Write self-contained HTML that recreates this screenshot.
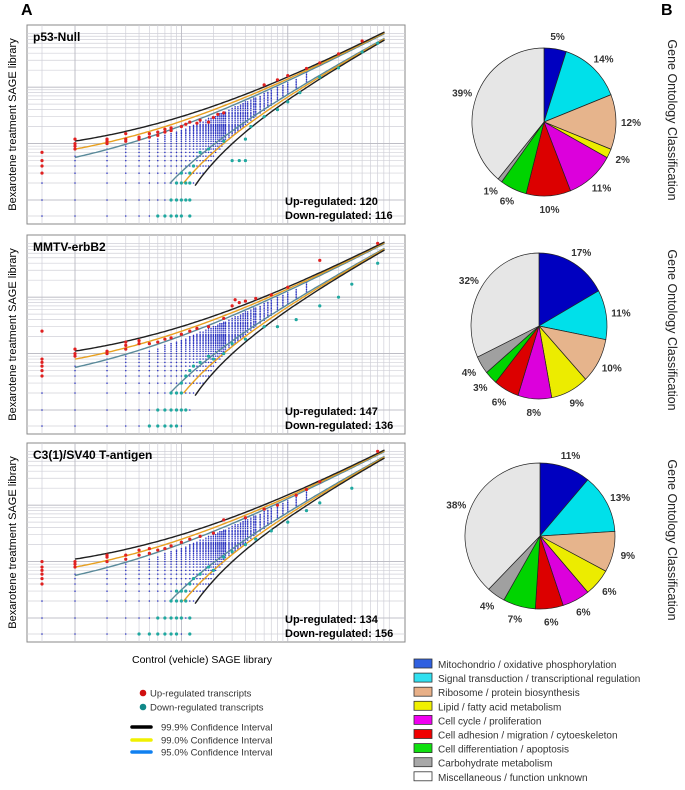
<!DOCTYPE html>
<html><head><meta charset="utf-8"><style>
body{margin:0;background:#fff;width:685px;height:790px;overflow:hidden;font-family:"Liberation Sans",sans-serif}
svg{position:absolute;left:0;top:0}
</style></head><body>
<svg id="fig" width="685" height="790"></svg>
<script>
// ---------- data ----------
const panelNames = ["p53-Null","MMTV-erbB2","C3(1)/SV40 T-antigen"];
const upCounts = [120,147,134];
const downCounts = [116,136,156];
const colX = [1,2,3,4,5,6,7,8,9,10,11,12,13,14,15,16,17,18,19,20,21,22,23,24,25,26,28,30,32,34,36,38,40,42,45,48,50,55,60,65,70,80,90,100,120,150];
const colYmax = [6,8,9,10,11,12,14,15,16,17,18,20,21,22,24,25,26,28,29,30,31,33,34,35,36,37,40,42,45,47,50,52,55,57,60,64,66,72,78,84,90,100,112,122,145,180];
const colYmin = [0,0,0,0,0,0,0,0,0,0,1,1,2,2,3,3,4,4,5,6,7,8,8,9,10,11,12,14,15,17,19,20,22,24,26,29,31,35,39,44,48,57,66,74,92,120];
const redP1 = [[0,3],[0,4],[0,5],[0,7],[1,8],[1,9],[1,10],[1,12],[2,10],[2,11],[2,12],[3,11],[3,12],[3,15],[4,12],[4,13],[5,13],[5,15],[6,14],[6,16],[7,16],[7,18],[8,17],[8,19],[10,20],[11,22],[12,24],[14,23],[15,26],[18,24],[20,29],[22,33],[25,35],[60,110],[80,135],[100,160],[150,215],[200,270],[300,390],[500,660]];
const downP1 = [[6,0],[7,0],[8,0],[9,0],[10,0],[12,0],[8,1],[9,1],[10,1],[11,1],[12,1],[9,2],[10,2],[11,2],[12,2],[10,3],[12,3],[13,4],[15,7],[18,8],[25,11],[30,5],[35,5],[40,5],[40,12],[45,20],[60,30],[80,40],[100,55],[130,80],[200,150],[300,220],[500,420],[700,600]];
const redP2 = [[0,4],[0,5],[0,6],[0,7],[0,8],[0,25],[1,9],[1,10],[1,12],[2,10],[2,11],[3,12],[3,14],[3,16],[4,15],[4,17],[5,15],[6,16],[7,18],[8,19],[10,22],[12,25],[14,28],[18,30],[25,42],[30,70],[32,90],[35,80],[40,85],[50,95],[70,110],[100,150],[200,450],[700,900]];
const downP2 = [[5,0],[6,0],[7,0],[8,0],[9,0],[6,1],[7,1],[8,1],[9,1],[10,1],[11,1],[8,2],[9,2],[10,2],[10,3],[11,4],[12,5],[13,6],[15,7],[18,9],[20,8],[25,10],[30,15],[40,18],[60,30],[80,30],[120,40],[200,70],[300,100],[400,170],[700,400]];
const redP3 = [[0,4],[0,5],[0,6],[0,7],[0,8],[0,10],[1,8],[1,9],[1,10],[2,10],[2,12],[2,13],[3,11],[3,13],[4,13],[4,16],[5,14],[5,17],[6,16],[7,17],[8,19],[10,22],[12,25],[15,28],[20,32],[25,55],[40,60],[60,85],[80,100],[120,150],[150,190],[200,260],[700,900]];
const downP3 = [[4,0],[5,0],[6,0],[7,0],[8,0],[9,0],[12,0],[6,1],[7,1],[8,1],[9,1],[10,1],[12,1],[8,2],[9,2],[10,2],[11,2],[9,3],[10,3],[11,3],[12,4],[13,5],[15,6],[18,8],[20,7],[25,12],[30,15],[40,20],[50,25],[70,35],[100,50],[150,80],[200,110],[400,200]];
const pie1 = [5,14,12,2,11,10,6,1,39];
const pie2 = [17,11,10,9,8,6,3,4,32];
const pie3 = [11,13,9,6,6,6,7,4,38];
const goCats = ["Mitochondrio / oxidative phosphorylation","Signal transduction / transcriptional regulation","Ribosome / protein biosynthesis","Lipid / fatty acid metabolism","Cell cycle / proliferation","Cell adhesion / migration / cytoeskeleton","Cell differentiation / apoptosis","Carbohydrate metabolism","Miscellaneous / function unknown"];
const pieColors = ["#0000c0","#00e0ea","#e6b48c","#ecec00","#dc00dc","#dc0000","#00d400","#a0a0a0","#e6e6e6"];
const legendColors = ["#3060e0","#30e0f0","#e8b088","#f0f000","#f000f0","#f00000","#10e010","#a8a8a8","#ffffff"];

// ---------- helpers ----------
const NS="http://www.w3.org/2000/svg";
const svg=document.getElementById('fig');
function mk(tag,attrs,parent){const e=document.createElementNS(NS,tag);for(const k in attrs)e.setAttribute(k,attrs[k]);(parent||svg).appendChild(e);return e;}
const PX0=27,PW=378,PH=199;
const panelTops=[25,235,443];
function xs(v){return v<=0?PX0+15:PX0+48+46.2*Math.log(v);}
function ys(v,top){return v<=0?top+191:top+175-24.5*Math.log(v);}
function up(x,z){return x+z*Math.sqrt(2*x)+z*z/2;}
function lo(x,z){return x-z*Math.sqrt(2*x)+z*z/2;}

let t=mk('text',{x:21,y:15,'font-size':16,'font-weight':'bold'});t.textContent='A';

t=mk('text',{x:661,y:15,'font-size':16,'font-weight':'bold'});t.textContent='B';


const reds=[redP1,redP2,redP3], downs=[downP1,downP2,downP3];
panelTops.forEach((top,pi)=>{
  const g=mk('g',{});
  
  
  mk('rect',{x:PX0,y:top,width:PW,height:PH,fill:'#fff',stroke:'#888','stroke-width':1},g);
  const gv=[0];for(let d=1;d<=1000;d*=10)for(let m=1;m<10;m++)if(d*m<=900)gv.push(d*m);
  gv.forEach(v=>{const x=xs(v);if(x<PX0+PW)mk('line',{x1:x,x2:x,y1:top,y2:top+PH,stroke:'#d0d0d8','stroke-width':0.7},g);
    const y=ys(v,top);if(y>top)mk('line',{x1:PX0,x2:PX0+PW,y1:y,y2:y,stroke:'#d0d0d8','stroke-width':0.7},g);});
  [1,10,100].forEach(v=>{mk('line',{x1:xs(v),x2:xs(v),y1:top,y2:top+PH,stroke:'#b8b8c0','stroke-width':0.8},g);
    mk('line',{x1:PX0,x2:PX0+PW,y1:ys(v,top),y2:ys(v,top),stroke:'#b8b8c0','stroke-width':0.8},g);});
  colX.forEach((cx,i)=>{let y=colYmin[i];while(y<=colYmax[i]){
    const d=mk('circle',{cx:xs(cx),cy:ys(y,top),r:0.75,fill:'#2830c0'},g);
    y+=Math.max(1,Math.round(y*0.07));}});
  for(let y=0;y<=2;y++)mk('circle',{cx:xs(0),cy:ys(y,top),r:0.8,fill:'#2830c0'},g);
  const zs=[[1.96,'#5a8a9a'],[2.58,'#e8a020'],[3.29,'#202020']];
  zs.forEach(([z,c])=>{
    let du='',dl='';
    for(let lx=0;lx<=6.72;lx+=0.05){const x=Math.exp(lx);
      du+=(du?'L':'M')+xs(x).toFixed(1)+','+ys(up(x,z),top).toFixed(1);
      const l=lo(x,z); if(x>z*z/2 && l>=1.8) dl+=(dl?'L':'M')+xs(x).toFixed(1)+','+ys(l,top).toFixed(1);}
    const p1=mk('path',{d:du,fill:'none',stroke:c,'stroke-width':1.4},g);
    
    const p2=mk('path',{d:dl,fill:'none',stroke:c,'stroke-width':1.4},g);
    
  });
  reds[pi].forEach(p=>{const c=mk('circle',{cx:xs(p[0]),cy:ys(p[1],top),r:1.6,fill:'#e02020'},g);
    });
  downs[pi].forEach(p=>{const c=mk('circle',{cx:xs(p[0]),cy:ys(p[1],top),r:1.6,fill:'#20a8a0'},g);
    });
  let tt=mk('text',{x:PX0+6,y:top+16,'font-size':12,'font-weight':'bold'},g);tt.textContent=panelNames[pi];
  
  tt=mk('text',{x:PX0+258,y:top+180,'font-size':11,'font-weight':'bold'},g);tt.textContent='Up-regulated: '+upCounts[pi];
  
  tt=mk('text',{x:PX0+258,y:top+194,'font-size':11,'font-weight':'bold'},g);tt.textContent='Down-regulated: '+downCounts[pi];
  
  tt=mk('text',{x:0,y:0,'font-size':11,'text-anchor':'middle',transform:`translate(16,${top+PH/2}) rotate(-90)`});tt.textContent='Bexarotene treatment SAGE library';
  
});
t=mk('text',{x:132,y:663,'font-size':10.5});t.textContent='Control (vehicle) SAGE library';


const pies=[[pie1,544,122,72,74,120],[pie2,539,326,68,73,330],[pie3,540,536,75,73,540]];
pies.forEach(([vals,cx,cy,rx,ry,gy],pi)=>{
  const g=mk('g',{});
  
  
  const tot=vals.reduce((a,b)=>a+b,0);let a=0;
  vals.forEach((v,i)=>{const a0=a/tot*2*Math.PI;a+=v;const a1=a/tot*2*Math.PI;
    const x0=cx+rx*Math.sin(a0),y0=cy-ry*Math.cos(a0),x1=cx+rx*Math.sin(a1),y1=cy-ry*Math.cos(a1);
    const s=mk('path',{d:`M${cx},${cy}L${x0},${y0}A${rx},${ry} 0 ${a1-a0>Math.PI?1:0} 1 ${x1},${y1}Z`,fill:pieColors[i],stroke:'#222','stroke-width':0.7},g);
    
    const am=(a0+a1)/2;
    const lt=mk('text',{x:cx+(rx+15)*Math.sin(am),y:cy-(ry+13)*Math.cos(am)+4,'font-size':10,'font-weight':'bold','text-anchor':'middle',fill:'#333'},g);
    lt.textContent=vals[i]+'%';
    
  });
  const gt=mk('text',{x:0,y:0,'font-size':12.5,'text-anchor':'middle',fill:'#222',transform:`translate(668,${gy}) rotate(90)`});
  gt.textContent='Gene Ontology Classification';
  
});

[['#d01010','Up-regulated transcripts',693],['#108888','Down-regulated transcripts',707]].forEach(([c,l,y])=>{
  const g=mk('g',{});
  mk('circle',{cx:143,cy:y,r:3.3,fill:c},g);
  const tx=mk('text',{x:150,y:y+3.5,'font-size':9.5,fill:'#333'},g);tx.textContent=l;});
[['#000','99.9% Confidence Interval',727],['#f0f000','99.0% Confidence Interval',740],['#1080f0','95.0% Confidence Interval',752]].forEach(([c,l,y])=>{
  const g=mk('g',{});
  mk('line',{x1:132,x2:151,y1:y,y2:y,stroke:c,'stroke-width':3.5,'stroke-linecap':'round'},g);
  const tx=mk('text',{x:161,y:y+3.5,'font-size':9.5,fill:'#333'},g);tx.textContent=l;});
goCats.forEach((l,i)=>{const y=664+i*14.1;
  const g=mk('g',{});
  mk('rect',{x:414,y:y-5,width:18,height:9,fill:legendColors[i],stroke:'#333','stroke-width':0.8},g);
  const tx=mk('text',{x:438,y:y+4,'font-size':10,fill:'#333'},g);tx.textContent=l;});
</script>
</body></html>
